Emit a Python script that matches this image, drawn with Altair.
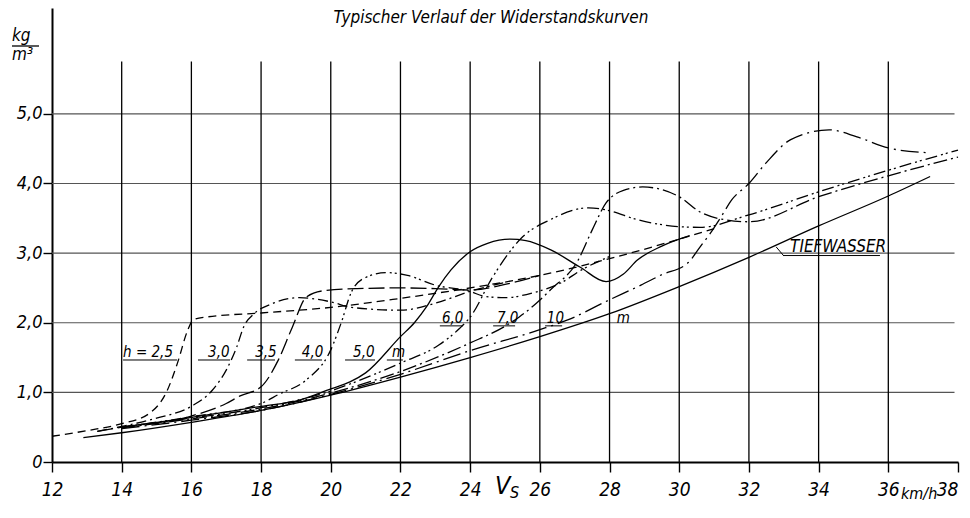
import altair as alt
import pandas as pd

FONT = "Liberation Sans Narrow, DejaVu Sans Condensed, DejaVu Sans, sans-serif"

# ---- axes / grid -------------------------------------------------------
x_ticks = [12, 14, 16, 18, 20, 22, 24, 26, 28, 30, 32, 34, 36, 38]
y_ticks = [0, 1, 2, 3, 4, 5]
grid_x = [14, 16, 18, 20, 22, 24, 26, 28, 30, 32, 34, 36]
grid_y = [1, 2, 3, 4, 5]
grid_x_top = 5.75
grid_y_end = 37.9

# ---- curves: speed V_S [km/h] and resistance [kg/m^3] ------------------
v_tief = [12.9, 14, 16, 18, 20, 22, 24, 26, 28, 30, 32, 34, 36, 37.2]
r_tief = [0.35, 0.42, 0.57, 0.74, 0.96, 1.22, 1.5, 1.8, 2.13, 2.52, 2.94, 3.39, 3.82, 4.1]

v_h25 = [12, 13, 14, 14.8, 15.3, 15.6, 15.9, 16.05, 16.4, 18, 20, 22, 24, 26, 28, 30, 31]
r_h25 = [0.37, 0.45, 0.55, 0.70, 1.02, 1.42, 1.9, 2.04, 2.08, 2.14, 2.22, 2.35, 2.5, 2.68, 2.92, 3.2, 3.35]

v_h30 = [13.3, 14, 15, 16, 16.6, 17.0, 17.3, 17.5, 17.8, 18.3, 19.1, 20, 20.6, 22, 23, 24, 25]
r_h30 = [0.44, 0.51, 0.63, 0.8, 1.03, 1.32, 1.65, 1.94, 2.13, 2.27, 2.36, 2.3, 2.22, 2.18, 2.28, 2.45, 2.58]

v_h35 = [13.3, 14, 16, 17, 17.4, 18, 18.5, 18.9, 19.3, 19.8, 20.75, 22, 23, 24, 25, 26]
r_h35 = [0.44, 0.5, 0.66, 0.84, 0.95, 1.08, 1.47, 1.94, 2.37, 2.46, 2.49, 2.5, 2.49, 2.47, 2.55, 2.68]

v_h40 = [14, 16, 18, 18.5, 19.3, 20, 20.3, 20.6, 21, 21.6, 22.2, 23, 24, 24.4, 25, 25.8, 26.6, 27.2, 28]
r_h40 = [0.5, 0.65, 0.84, 0.97, 1.18, 1.61, 2.0, 2.45, 2.65, 2.72, 2.68, 2.54, 2.45, 2.38, 2.36, 2.43, 2.57, 2.76, 2.95]

v_h50 = [14, 16, 18, 19.1, 20, 20.55, 21, 22, 22.4, 22.75, 23.1, 23.45, 24, 24.5, 25.14, 25.6, 26.3, 27.15, 27.9, 28.4, 28.8, 29.5, 30.3]
r_h50 = [0.5, 0.64, 0.8, 0.89, 1.05, 1.15, 1.28, 1.80, 2.0, 2.23, 2.52, 2.76, 3.02, 3.14, 3.2, 3.18, 3.05, 2.8, 2.59, 2.7, 2.9, 3.1, 3.25]

v_h60 = [14, 16, 18, 20, 20.55, 22, 23.1, 23.7, 24, 24.65, 25.5, 26.3, 27.4, 27.9, 28.8, 30, 30.6, 32, 34, 36, 38]
r_h60 = [0.5, 0.63, 0.78, 1.02, 1.12, 1.42, 1.68, 1.92, 2.08, 2.66, 3.23, 3.48, 3.65, 3.62, 3.48, 3.38, 3.37, 3.55, 3.88, 4.19, 4.48]

v_h70 = [14, 16, 18, 20, 22, 24, 25, 25.4, 25.9, 26.3, 27.1, 27.5, 27.9, 28.4, 28.95, 30, 30.6, 31.3, 32, 34, 36, 38]
r_h70 = [0.49, 0.62, 0.76, 0.99, 1.3, 1.71, 1.95, 2.08, 2.28, 2.47, 2.9, 3.33, 3.72, 3.9, 3.95, 3.81, 3.59, 3.48, 3.45, 3.81, 4.11, 4.38]

v_h10 = [14, 16, 18, 20, 22, 24, 26, 26.8, 28, 28.9, 29.5, 30.25, 30.6, 30.9, 31.2, 31.5, 32, 32.5, 33.2, 34.3, 35.1, 36, 37.2]
r_h10 = [0.48, 0.6, 0.74, 0.97, 1.26, 1.6, 1.9, 2.04, 2.33, 2.54, 2.69, 2.86, 3.09, 3.29, 3.52, 3.76, 4.0, 4.3, 4.63, 4.77, 4.67, 4.51, 4.44]

# ---- curve labels (underlined) -----------------------------------------
lab_text = ["h = 2,5", "3,0", "3,5", "4,0", "5,0", "m", "6,0", "7,0", "10", "m"]
lab_x = [14.04, 16.48, 17.83, 19.17, 20.64, 21.76, 23.19, 24.77, 26.2, 28.21]
lab_y = [1.51, 1.51, 1.51, 1.51, 1.51, 1.51, 2.0, 2.0, 2.0, 2.0]
ul_x1 = [14.04, 16.19, 17.6, 18.97, 20.41, 21.61, 23.13, 24.66, 26.15]
ul_x2 = [15.59, 17.11, 18.4, 19.75, 21.27, 22.07, 23.79, 25.29, 26.64]
ul_y = [1.465, 1.465, 1.465, 1.465, 1.465, 1.465, 1.955, 1.955, 1.955]

tief_text = ["TIEFWASSER"]
tief_x = [33.18]
tief_y = [3.02]
tief_ul_x1 = [32.98]
tief_ul_x2 = [35.76]
tief_ul_y = [2.965]
leader_x1 = [32.78]
leader_y1 = [3.09]
leader_x2 = [33.0]
leader_y2 = [2.96]

# ---- chart -------------------------------------------------------------
xscale = alt.Scale(domain=[12, 38], nice=False, zero=False)
yscale = alt.Scale(domain=[0, 6.52], nice=False, zero=False)

xaxis = alt.Axis(values=x_ticks, title=None, grid=False, domain=True,
                 domainColor="black", domainWidth=2, tickColor="black",
                 tickSize=10, tickWidth=1.4, labelFont=FONT, labelFontSize=19,
                 labelFontStyle="italic", labelColor="black", labelPadding=8,
                 labelFlush=False, labelOverlap=False,
                 labelAlign={"condition": {"test": "datum.value == 38", "value": "right"},
                             "value": "center"})
yaxis = alt.Axis(values=y_ticks, title=None, grid=False, domain=True,
                 domainColor="black", domainWidth=2, tickColor="black",
                 tickSize=9, tickWidth=1.4, labelFont=FONT, labelFontSize=18,
                 labelFontStyle="italic", labelColor="black", labelPadding=1,
                 labelFlush=False, labelOverlap=False,
                 labelExpr="datum.value == 0 ? '0' : replace(format(datum.value, '.1f'), '.', ',')")


def X(field):
    return alt.X(field, type="quantitative", scale=xscale, axis=xaxis)


def Y(field):
    return alt.Y(field, type="quantitative", scale=yscale, axis=yaxis)


vgrid_df = pd.DataFrame({"gx": grid_x, "y0": [0] * len(grid_x), "y1": [grid_x_top] * len(grid_x)})
vgrid = alt.Chart(vgrid_df).mark_rule(color="black", strokeWidth=1.3).encode(
    x=X("gx"), y=Y("y0"), y2="y1:Q",
)

hgrid_df = pd.DataFrame({"gy": grid_y, "x0": [12] * len(grid_y), "x1": [grid_y_end] * len(grid_y)})
hgrid = alt.Chart(hgrid_df).mark_rule(color="#555555", strokeWidth=1.1).encode(
    y=Y("gy"), x=X("x0"), x2="x1:Q",
)

series = [
    (v_tief, r_tief, None),
    (v_h25, r_h25, [8, 5]),
    (v_h30, r_h30, [10, 4, 2, 4]),
    (v_h35, r_h35, [16, 5]),
    (v_h40, r_h40, [10, 4, 2, 3, 2, 4]),
    (v_h50, r_h50, None),
    (v_h60, r_h60, [12, 4, 2, 3, 2, 4]),
    (v_h70, r_h70, [14, 4, 2, 4]),
    (v_h10, r_h10, [18, 5, 2, 5]),
]

layers = [hgrid, vgrid]
for xs, ys, dash in series:
    df = pd.DataFrame({"v": xs, "r": ys})
    kw = dict(color="black", strokeWidth=1.3, interpolate="monotone")
    if dash is not None:
        kw["strokeDash"] = dash
    layers.append(alt.Chart(df).mark_line(**kw).encode(x=X("v"), y=Y("r")))

lab_df = pd.DataFrame({"t": lab_text, "lx": lab_x, "ly": lab_y})
layers.append(alt.Chart(lab_df).mark_text(align="left", baseline="alphabetic", font=FONT,
                                          fontSize=15, fontStyle="italic", color="black").encode(
    x=X("lx"), y=Y("ly"), text="t:N",
))
ul_df = pd.DataFrame({"a": ul_x1, "b": ul_x2, "c": ul_y})
layers.append(alt.Chart(ul_df).mark_rule(color="black", strokeWidth=1).encode(
    x=X("a"), x2="b:Q", y=Y("c"),
))

tief_df = pd.DataFrame({"t": tief_text, "lx": tief_x, "ly": tief_y})
layers.append(alt.Chart(tief_df).mark_text(align="left", baseline="alphabetic", font=FONT,
                                           fontSize=17, fontStyle="italic", color="black").encode(
    x=X("lx"), y=Y("ly"), text="t:N",
))
tul_df = pd.DataFrame({"a": tief_ul_x1, "b": tief_ul_x2, "c": tief_ul_y})
layers.append(alt.Chart(tul_df).mark_rule(color="black", strokeWidth=1).encode(
    x=X("a"), x2="b:Q", y=Y("c"),
))
lead_df = pd.DataFrame({"a": leader_x1, "b": leader_x2, "c": leader_y1, "d": leader_y2})
layers.append(alt.Chart(lead_df).mark_rule(color="black", strokeWidth=1).encode(
    x=X("a"), x2="b:Q", y=Y("c"), y2="d:Q",
))

one = pd.DataFrame({"k": [0]})


def ptext(txt, x, y, size, align="left"):
    return alt.Chart(one).mark_text(text=txt, align=align, baseline="alphabetic", font=FONT,
                                    fontSize=size, fontStyle="italic", color="black").encode(
        x=alt.value(x), y=alt.value(y))


layers += [
    alt.Chart(one).mark_text(text="Typischer  Verlauf  der  Widerstandskurven", align="center",
                             baseline="alphabetic", font=FONT, fontSize=17, fontStyle="italic",
                             color="black").encode(x=alt.value(439), y=alt.value(15)),
    ptext("kg", -40, 33, 17),
    alt.Chart(one).mark_rule(color="black", strokeWidth=1.3).encode(
        x=alt.value(-40), x2=alt.value(-13), y=alt.value(38)),
    ptext("m³", -40, 52, 17),
    ptext("V", 443, 486, 25),
    ptext("S", 458, 490, 16),
    ptext("km/h", 849, 491, 16),
]

chart = alt.layer(*layers).properties(
    width=906, height=454,
    padding={"left": 44, "top": 0, "right": 4, "bottom": 42},
    autosize=alt.AutoSizeParams(type="none"),
    background="white",
).configure_view(stroke=None)

chart.save("out.html", embed_options={"renderer": "svg", "actions": False})
